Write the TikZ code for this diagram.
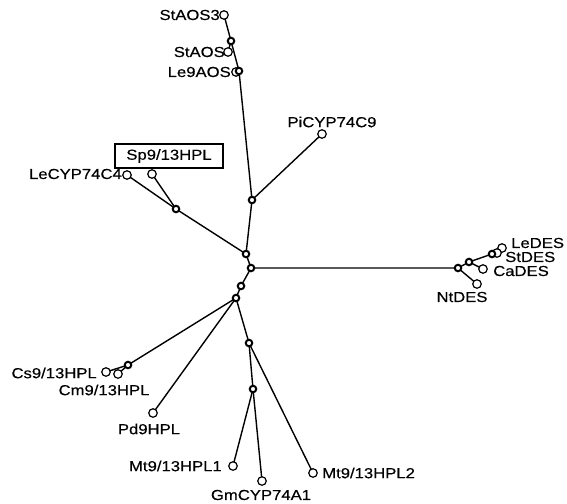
\documentclass[tikz,border=0pt]{standalone}
\usepackage{fontspec}
\setmainfont{Liberation Sans}
\newfontfamily\lblfont{Liberation Sans}[FakeBold=0.35]
\begin{document}
\begin{tikzpicture}[x=1pt,y=-1pt,
  leaf/.style={circle,draw,fill=white,line width=1.2pt,minimum size=8.5pt,inner sep=0pt},
  inner/.style={circle,draw,fill=white,line width=2pt,minimum size=6.5pt,inner sep=0pt},
  lbl/.style={font=\lblfont\fontsize{14.5}{16}\selectfont,inner sep=0pt,xscale=1.15,transform shape},
  edge/.style={line width=1.4pt}]
\useasboundingbox (0,0) rectangle (567,503);
% internal nodes
\coordinate (A) at (251,268);
\coordinate (B) at (246,254);
\coordinate (E) at (252,200);
\coordinate (ILe) at (239,71);
\coordinate (ISt) at (231,41);
\coordinate (F) at (176,209);
\coordinate (C) at (241,286);
\coordinate (D) at (236,298);
\coordinate (ICs) at (128,365);
\coordinate (M1) at (249,343);
\coordinate (M2) at (253,389);
\coordinate (D1) at (458,268);
\coordinate (D2) at (469,262);
\coordinate (D3) at (492,254);
% leaves
\coordinate (lSt3) at (224,15);
\coordinate (lSt) at (228,52);
\coordinate (lLe9) at (236,72);
\coordinate (lPi) at (322,134);
\coordinate (lLeC) at (127,175);
\coordinate (lSp) at (152,174);
\coordinate (lLeD) at (502,248);
\coordinate (lStD) at (497,253);
\coordinate (lCaD) at (483,269);
\coordinate (lNtD) at (477,284);
\coordinate (lCs) at (106,372);
\coordinate (lCm) at (118,374);
\coordinate (lPd) at (153,413);
\coordinate (lMt1) at (233,466);
\coordinate (lGm) at (262,481);
\coordinate (lMt2) at (313,473);
% edges
\draw[edge] (A) -- (B) -- (E) -- (ILe) -- (ISt) -- (lSt3);
\draw[edge] (ISt) -- (lSt);
\draw[edge] (ILe) -- (lLe9);
\draw[edge] (E) -- (lPi);
\draw[edge] (B) -- (F) -- (lLeC);
\draw[edge] (F) -- (lSp);
\draw[edge] (A) -- (D1) -- (lNtD);
\draw[edge] (D1) -- (D2) -- (lCaD);
\draw[edge] (D2) -- (D3) -- (lLeD);
\draw[edge] (D3) -- (lStD);
\draw[edge] (A) -- (C) -- (D) -- (ICs) -- (lCm);
\draw[edge] (ICs) -- (lCs);
\draw[edge] (D) -- (lPd);
\draw[edge] (D) -- (M1) -- (M2) -- (lMt1);
\draw[edge] (M2) -- (lGm);
\draw[edge] (M1) -- (lMt2);
% leaf circles
\foreach \p/\n in {lSt3/c1,lSt/c2,lLe9/c3,lPi/c4,lLeC/c5,lSp/c6,lLeD/c7,lStD/c8,lCaD/c9,lNtD/c10,lCs/c11,lCm/c12,lPd/c13,lMt1/c14,lGm/c15,lMt2/c16}
  \node[leaf] (\n) at (\p) {};
% internal circles
\foreach \p/\n in {A/i1,B/i2,E/i3,ILe/i4,ISt/i5,F/i6,C/i7,D/i8,ICs/i9,M1/i10,M2/i11,D1/i12,D2/i13,D3/i14}
  \node[inner] (\n) at (\p) {};
% labels
\node[lbl,anchor=east] (t1) at (220,15) {StAOS3};
\node[lbl,anchor=east] (t2) at (225,52) {StAOS};
\node[lbl,anchor=east] (t3) at (231,72) {Le9AOS};
\node[lbl] (t4) at (332,122) {PiCYP74C9};
\node[draw,line width=1.1pt,minimum width=108pt,minimum height=24pt,inner sep=0pt] (box) at (169,156) {};
\node[lbl] (t5) at (169,156) {Sp9/13HPL};
\node[lbl,anchor=east] (t6) at (122,174) {LeCYP74C4};
\node[lbl,anchor=west] (t7) at (511,243) {LeDES};
\node[lbl,anchor=west] (t8) at (505,257) {StDES};
\node[lbl,anchor=west] (t9) at (493,271) {CaDES};
\node[lbl] (t10) at (462,297) {NtDES};
\node[lbl,anchor=east] (t11) at (97,373) {Cs9/13HPL};
\node[lbl] (t12) at (104,390) {Cm9/13HPL};
\node[lbl] (t13) at (149,429) {Pd9HPL};
\node[lbl,anchor=east] (t14) at (222,466) {Mt9/13HPL1};
\node[lbl] (t15) at (261,495) {GmCYP74A1};
\node[lbl,anchor=west] (t16) at (322,473) {Mt9/13HPL2};
\end{tikzpicture}
\end{document}
